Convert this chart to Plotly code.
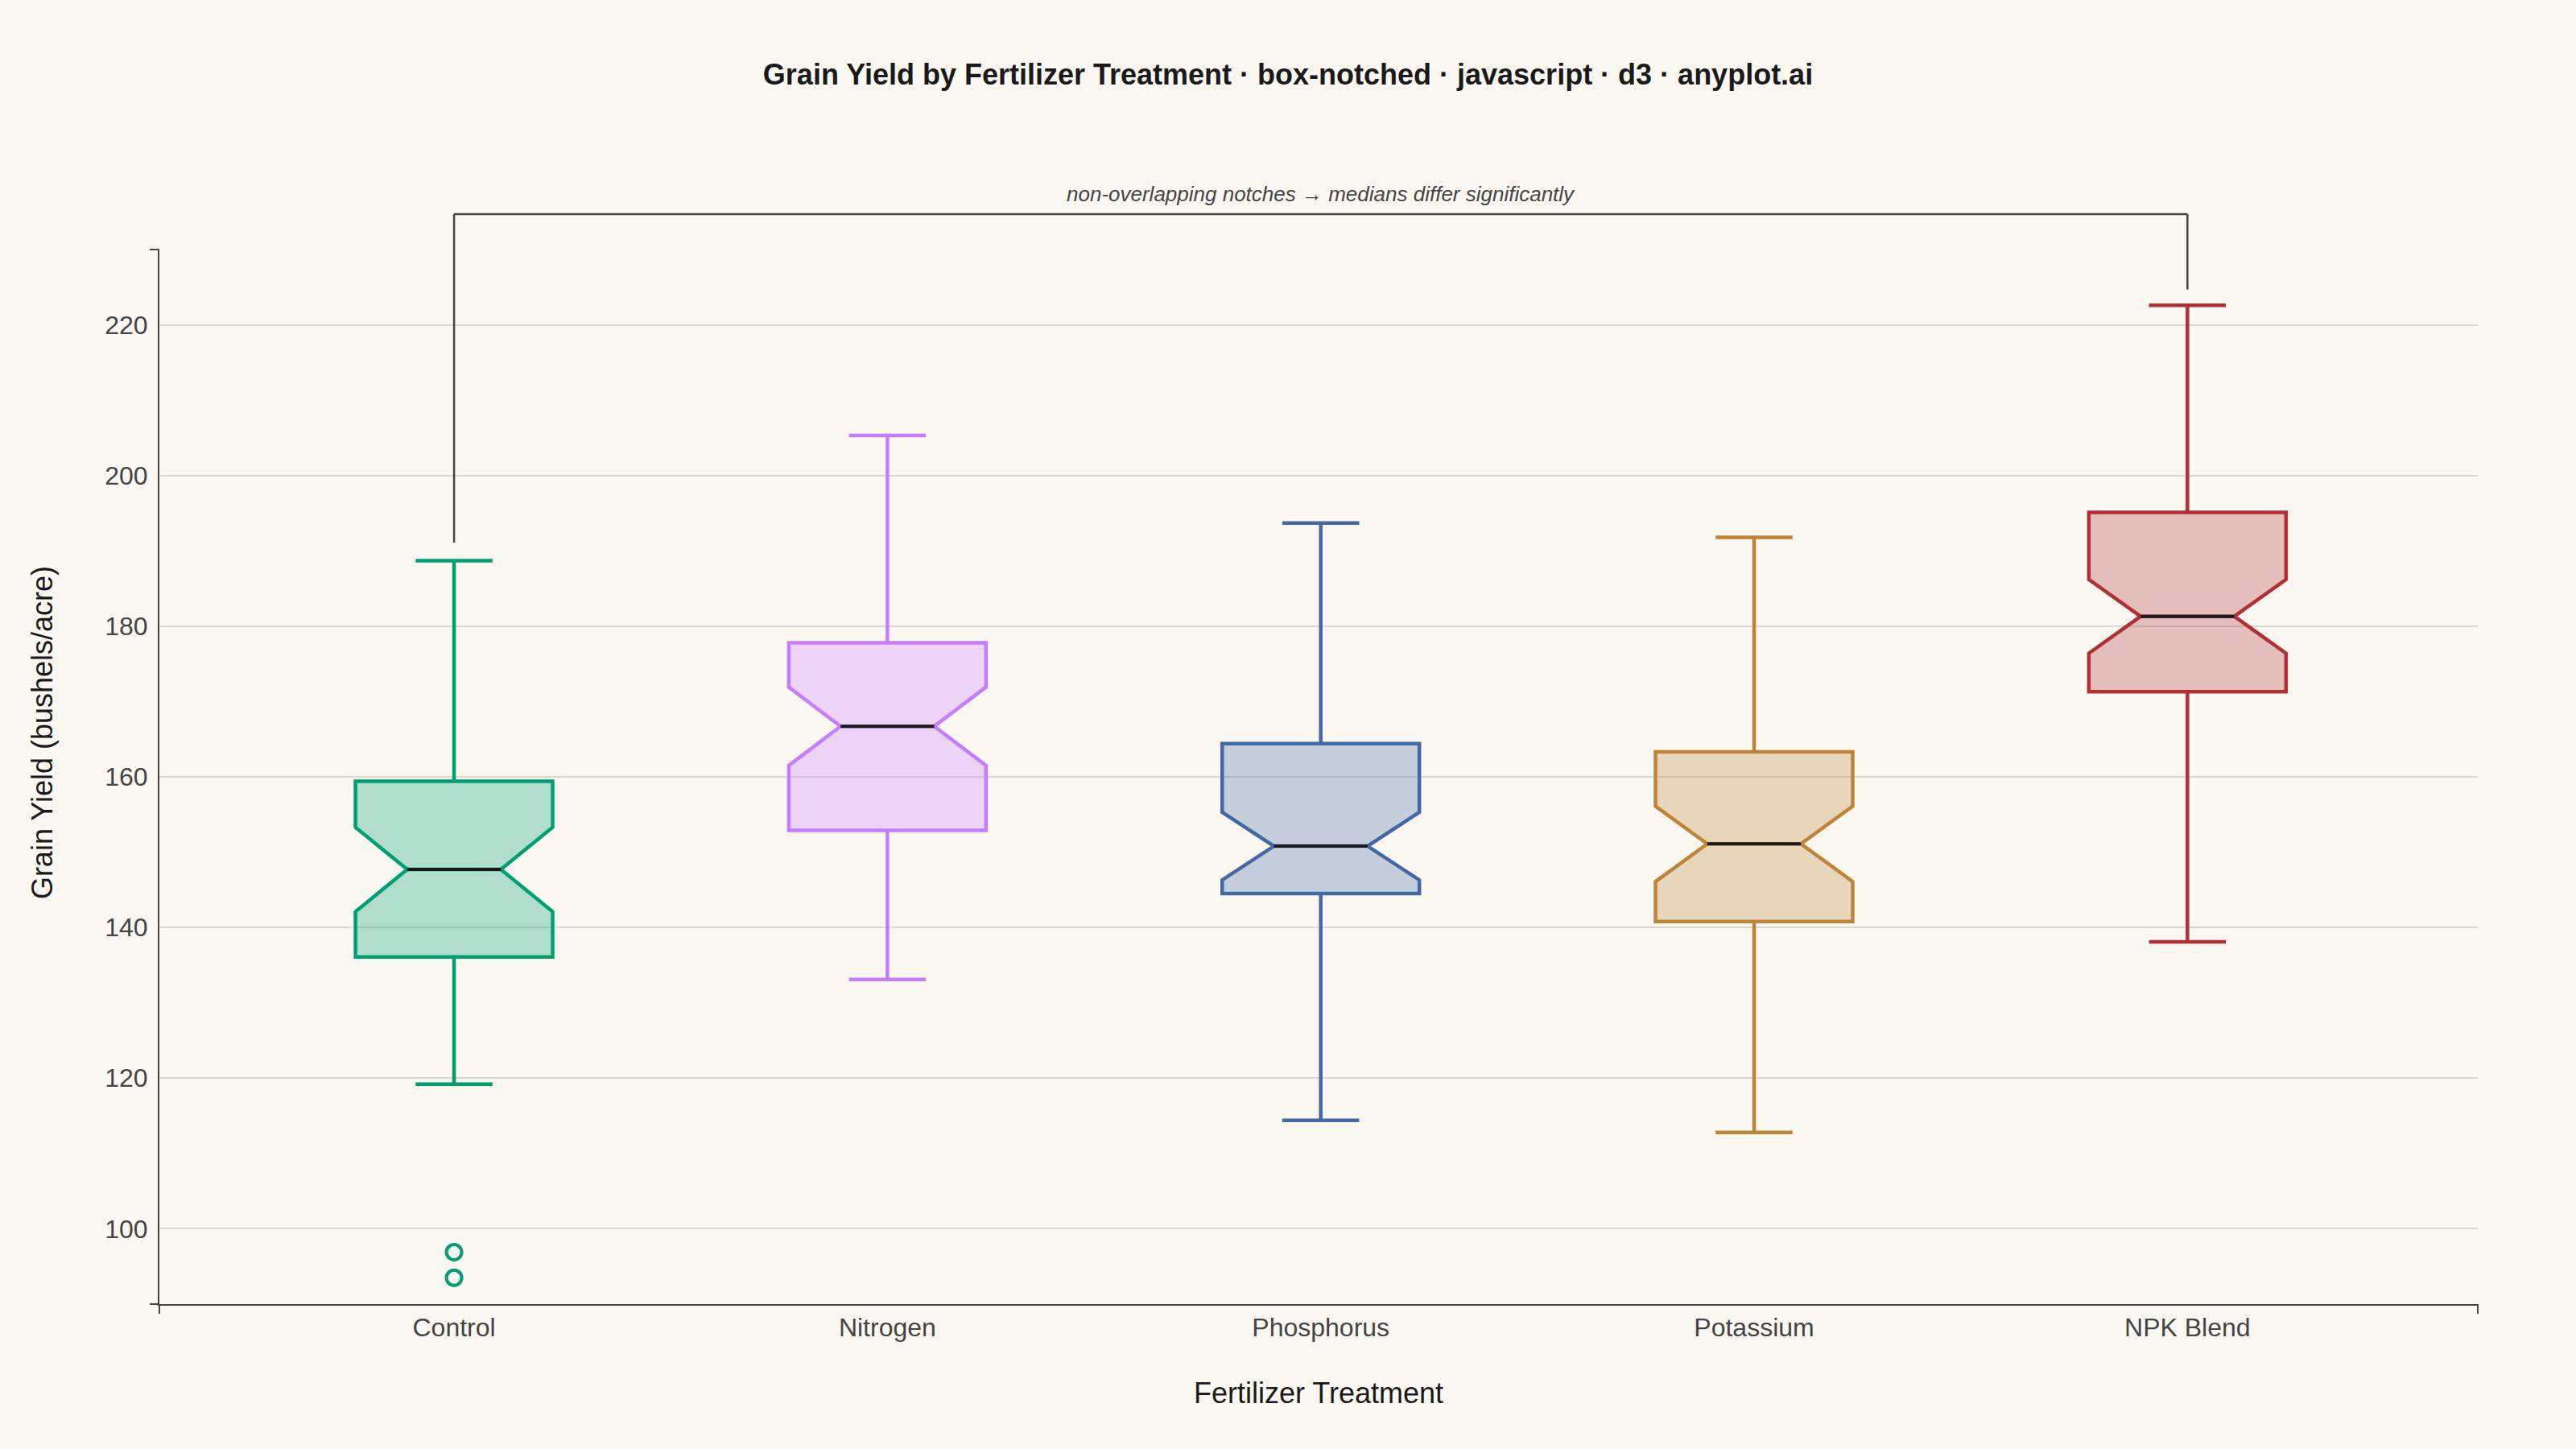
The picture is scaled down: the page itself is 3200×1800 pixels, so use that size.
"""Notched box plot of grain yield by fertilizer treatment."""

import plotly.graph_objects as go


TREATMENTS = ["Control", "Nitrogen", "Phosphorus", "Potassium", "NPK Blend"]
LOWER = [119.2, 133.1, 114.4, 112.8, 138.1]
Q1 = [136.1, 152.9, 144.5, 140.8, 171.3]
MEDIAN = [147.7, 166.7, 150.8, 151.1, 181.3]
Q3 = [159.4, 177.8, 164.4, 163.3, 195.1]
UPPER = [188.7, 205.3, 193.7, 191.8, 222.6]
NOTCH = [5.6, 5.2, 4.5, 5.0, 4.9]
OUTLIER_GROUP = [0, 0]
OUTLIER_Y = [96.9, 93.5]
Y_TICKS = [100, 120, 140, 160, 180, 200, 220]
COLORS = ["#009E73", "#C77CFF", "#4467A5", "#BF8436", "#B03035"]

# bracket between Control and NPK Blend (in yield units)
BRACKET_FROM, BRACKET_TO = 0, 4
BRACKET_LEFT, BRACKET_RIGHT, BRACKET_TOP = 191.1, 224.7, 234.7
NOTE = "non-overlapping notches \u2192 medians differ significantly"

Y_RANGE = [90, 230]
BOX_W = 0.455
NOTCH_W = 0.2625
BG = "#FAF8F1"
INK = "#444444"
FONT = "Liberation Sans, Arial, sans-serif"


def hex_rgba(color, alpha):
    r, g, b = (int(color[i:i + 2], 16) for i in (1, 3, 5))
    return f"rgba({r},{g},{b},{alpha})"


def to_paper(v):
    return (v - Y_RANGE[0]) / (Y_RANGE[1] - Y_RANGE[0])


fig = go.Figure()

for i, name in enumerate(TREATMENTS):
    color = COLORS[i]
    fig.add_trace(
        go.Box(
            x=[i],
            lowerfence=[LOWER[i]],
            q1=[Q1[i]],
            median=[MEDIAN[i]],
            q3=[Q3[i]],
            upperfence=[UPPER[i]],
            notchspan=[NOTCH[i]],
            notched=True,
            notchwidth=NOTCH_W,
            width=BOX_W,
            whiskerwidth=0.39,
            name=name,
            line=dict(color=color, width=4.5),
            fillcolor=hex_rgba(color, 0.29),
            hoverinfo="skip",
        )
    )
    # black median line across the notch waist
    half = BOX_W / 2 * (1 - 2 * NOTCH_W)
    fig.add_trace(
        go.Scatter(
            x=[i - half, i + half],
            y=[MEDIAN[i], MEDIAN[i]],
            mode="lines",
            line=dict(color="#1a1a1a", width=4),
            hoverinfo="skip",
        )
    )

fig.add_trace(
    go.Scatter(
        x=OUTLIER_GROUP,
        y=OUTLIER_Y,
        mode="markers",
        marker=dict(
            symbol="circle-open", size=19, color=COLORS[0], line=dict(width=4)
        ),
        hoverinfo="skip",
    )
)

bracket = dict(type="line", xref="x", yref="paper", line=dict(color=INK, width=2.5))
fig.add_shape(bracket, x0=BRACKET_FROM, x1=BRACKET_FROM,
              y0=to_paper(BRACKET_LEFT), y1=to_paper(BRACKET_TOP))
fig.add_shape(bracket, x0=BRACKET_FROM, x1=BRACKET_TO,
              y0=to_paper(BRACKET_TOP), y1=to_paper(BRACKET_TOP))
fig.add_shape(bracket, x0=BRACKET_TO, x1=BRACKET_TO,
              y0=to_paper(BRACKET_RIGHT), y1=to_paper(BRACKET_TOP))
fig.add_annotation(
    x=(BRACKET_FROM + BRACKET_TO) / 2,
    y=to_paper(BRACKET_TOP),
    xref="x",
    yref="paper",
    text=f"<i>{NOTE}</i>",
    showarrow=False,
    yanchor="bottom",
    yshift=8,
    font=dict(family=FONT, size=26, color=INK),
)

# axis titles placed as in the original (y title sits above plot centre)
fig.add_annotation(
    x=0.5, y=-0.084, xref="paper", yref="paper",
    text="Fertilizer Treatment", showarrow=False,
    xanchor="center", yanchor="middle",
    font=dict(family=FONT, size=36, color="#1a1a1a"),
)
fig.add_annotation(
    x=-0.0503, y=0.542, xref="paper", yref="paper",
    text="Grain Yield (bushels/acre)", showarrow=False, textangle=-90,
    xanchor="center", yanchor="middle",
    font=dict(family=FONT, size=36, color="#1a1a1a"),
)

# outer end ticks of the axis domains
end_tick = dict(type="line", line=dict(color=INK, width=2))
fig.add_shape(end_tick, xref="paper", yref="paper", xsizemode="pixel",
              xanchor=0, x0=-12, x1=0, y0=1, y1=1)
fig.add_shape(end_tick, xref="paper", yref="paper", xsizemode="pixel",
              xanchor=0, x0=-12, x1=0, y0=0, y1=0)
fig.add_shape(end_tick, xref="paper", yref="paper", ysizemode="pixel",
              yanchor=0, y0=-12, y1=0, x0=0, x1=0)
fig.add_shape(end_tick, xref="paper", yref="paper", ysizemode="pixel",
              yanchor=0, y0=-12, y1=0, x0=1, x1=1)

fig.update_layout(
    width=3200,
    height=1800,
    margin=dict(l=198, r=122, t=310, b=180),
    paper_bgcolor=BG,
    plot_bgcolor=BG,
    showlegend=False,
    boxmode="overlay",
    font=dict(family=FONT, color=INK),
    title=dict(
        text="<b>Grain Yield by Fertilizer Treatment \u00b7 box-notched \u00b7 "
        "javascript \u00b7 d3 \u00b7 anyplot.ai</b>",
        x=0.5,
        xanchor="center",
        y=1 - 92 / 1800,
        yanchor="middle",
        font=dict(family=FONT, size=36, color="#1a1a1a"),
    ),
    xaxis=dict(
        range=[-0.68, 4.67],
        tickvals=list(range(len(TREATMENTS))),
        ticktext=TREATMENTS,
        showgrid=False,
        zeroline=False,
        showline=True,
        linecolor=INK,
        linewidth=2,
        ticks="",
        tickfont=dict(size=32, color=INK),
    ),
    yaxis=dict(
        range=Y_RANGE,
        tickvals=Y_TICKS,
        showgrid=True,
        gridcolor="#DCD8CF",
        gridwidth=2,
        zeroline=False,
        showline=True,
        linecolor=INK,
        linewidth=2,
        ticks="outside",
        ticklen=6,
        tickcolor="rgba(0,0,0,0)",
        tickfont=dict(size=32, color=INK),
    ),
)

fig.write_html(
    "out.html",
    config={"displayModeBar": False},
    post_script="document.body.style.margin='0';"
    "document.body.style.overflow='hidden';",
)
